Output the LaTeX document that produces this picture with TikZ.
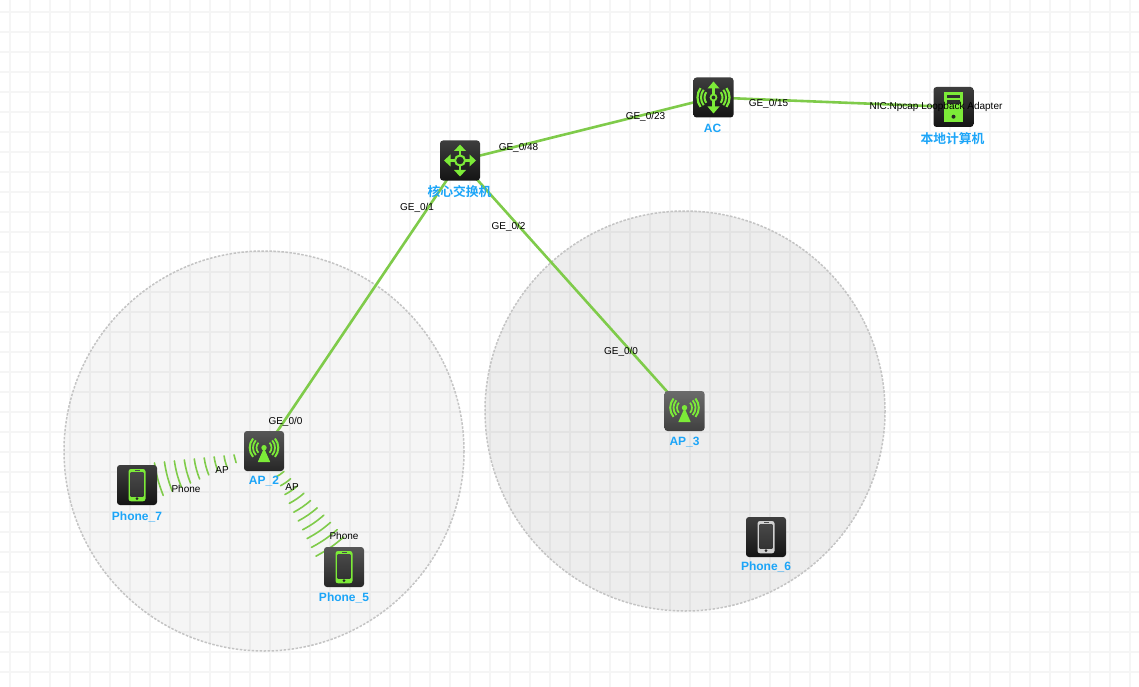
\documentclass[tikz,border=0pt]{standalone}
\usepackage{fontspec}
\setmainfont{Liberation Sans}
\newfontfamily\cjk{Noto Sans CJK SC}[BoldFont={Noto Sans CJK SC Bold}]
\usetikzlibrary{calc}
\pgfdeclarelayer{under}
\pgfdeclarelayer{links}
\pgfsetlayers{under,links,main}
\definecolor{gridc}{HTML}{F5F5F5}
\definecolor{linkc}{HTML}{7FCB4A}
\definecolor{glyphc}{HTML}{7CEB38}
\definecolor{namec}{HTML}{1CA5F8}
\definecolor{zonec}{HTML}{C4C4C4}
\tikzset{
  gridline/.style={draw=gridc,line width=2pt},
  zone/.style={draw=zonec,line width=1.5pt,dash pattern=on 2.5pt off 1.5pt,fill=black},
  wired/.style={draw=linkc,line width=2.6pt},
  wave/.style={draw=linkc,line width=1.6pt,line cap=round},
  devbox/.style={minimum width=40pt,minimum height=40pt,inner sep=0pt,rounded corners=3pt,draw=none},
  boxA/.style={devbox,top color=black!76,bottom color=black!92},
  boxB/.style={devbox,top color=black!66,bottom color=black!85},
  boxC/.style={devbox,top color=black!58,bottom color=black!75},
  devname/.style={text=namec,font=\bfseries\fontsize{12}{14}\selectfont,inner sep=0pt,yshift=-0.8pt},
  cjkname/.style={text=namec,font=\cjk\bfseries\fontsize{12.8}{14}\selectfont,inner sep=0pt},
  portlabel/.style={text=black,font=\fontsize{10}{12}\selectfont,inner sep=0pt,yshift=-0.9pt},
  pics/coreglyph/.style={code={
    \draw[glyphc,line width=2pt] (0,0) circle (5);
    \foreach \a in {0,90,180,270}{
      \begin{scope}[rotate=\a]
        \draw[glyphc,line width=2.2pt] (5,0) -- (11,0);
        \fill[glyphc] (16,0) -- (9.5,-6) -- (9.5,6) -- cycle;
      \end{scope}}
  }},
  pics/acglyph/.style={code={
    \draw[glyphc,line width=1.7pt] (0,0) circle (3);
    \draw[glyphc,line width=2.4pt] (0,-3) -- (0,-10) (0,3) -- (0,10);
    \fill[glyphc] (0,-16) -- (-6,-9) -- (6,-9) -- cycle;
    \fill[glyphc] (0,16) -- (-6,9) -- (6,9) -- cycle;
    \foreach \r/\w/\h in {9/2/36,12.5/2/38,16/2.2/36}{
      \draw[glyphc,line width=\w pt] (0,0) ++(-\h:\r) arc (-\h:\h:\r);
      \draw[glyphc,line width=\w pt] (0,0) ++(180-\h:\r) arc (180-\h:180+\h:\r);
    }
  }},
  pics/apglyph/.style={code={
    \fill[glyphc] (0,-3) -- (-6.2,11) -- (6.2,11) -- cycle;
    \fill[glyphc] (0,-3.3) circle (2.7);
    \foreach \r/\w/\h in {7.5/1.7/42,11/1.8/42,14.3/2/40}{
      \draw[glyphc,line width=\w pt] (0,-3.3) ++(-\h:\r) arc (-\h:\h:\r);
      \draw[glyphc,line width=\w pt] (0,-3.3) ++(180-\h:\r) arc (180-\h:180+\h:\r);
    }
  }},
  pics/phoneglyph/.style={code={
    \fill[#1,rounded corners=2.5pt] (-8.5,-16) rectangle (8.5,16.3);
    \shade[top color=black!72,bottom color=black!80] (-6.4,-12.7) rectangle (6.4,11.3);
    \fill[black!70] (-2.5,-15) rectangle (2.5,-14);
    \fill[black!85] (0,13.7) circle (1.5);
  }},
  pics/pcglyph/.style={code={
    \fill[glyphc] (-9.5,-15) rectangle (9.5,15);
    \fill[black!82] (-6.8,-12) rectangle (6.8,-8.8);
    \fill[black!82] (-6.8,-6.5) rectangle (6.8,-3.2);
    \fill[black!85] (0,9.7) circle (2);
  }}
}
\begin{document}
\begin{tikzpicture}[x=1pt,y=-1pt]
\useasboundingbox (0,0) rectangle (1139,687);
\begin{pgfonlayer}{under}
  \fill[white] (0,0) rectangle (1139,687);
  \foreach \x in {10,30,...,1130} \draw[gridline] (\x,0) -- (\x,687);
  \foreach \y in {12,32,...,672} \draw[gridline] (0,\y) -- (1139,\y);
  \draw[zone,fill opacity=0.04] (264,451) circle (200);
  \draw[zone,fill opacity=0.07] (685,411) circle (200);
\end{pgfonlayer}

% devices
\node[boxA] (core) at (460,160.5) {};
\pic at (core.center) {coreglyph};
\node[boxA] (ac) at (713.5,97.5) {};
\pic at (ac.center) {acglyph};
\node[boxA] (pc) at (953.5,107) {};
\pic at (pc.center) {pcglyph};
\node[boxB] (ap2) at (264,451) {};
\pic at (ap2.center) {apglyph};
\node[boxC] (ap3) at (684.5,411) {};
\pic at (ap3.center) {apglyph};
\node[boxA] (ph7) at (137,485) {};
\pic at (ph7.center) {phoneglyph=glyphc};
\node[boxB] (ph5) at (344,567) {};
\pic at (ph5.center) {phoneglyph=glyphc};
\node[boxA] (ph6) at (766,537) {};
\pic at (ph6.center) {phoneglyph=black!18};

% links
\begin{pgfonlayer}{links}
  \draw[wired] (core.center) -- (ac.center);
  \draw[wired] (ac.center) -- (pc.center);
  \draw[wired] (core.center) -- (ap2.center);
  \draw[wired] (core.center) -- (ap3.center);
  \foreach \k in {0,...,8}{
    \pgfmathsetmacro{\t}{0.228+0.075*\k}
    \pgfmathsetmacro{\h}{4.0+1.6*\k}
    \coordinate (m) at ($(ap2)!\t!(ph7)$);
    \draw[wave] ($(m)!\h pt!90:(ph7)$) to[bend left=6] ($(m)!\h pt!-90:(ph7)$);
  }
  \foreach \k in {0,...,9}{
    \pgfmathsetmacro{\t}{0.2+0.0693*\k}
    \pgfmathsetmacro{\h}{4.8+1.35*\k}
    \coordinate (m) at ($(ap2)!\t!(ph5)$);
    \draw[wave] ($(m)!\h pt!90:(ph5)$) to[bend left=6] ($(m)!\h pt!-90:(ph5)$);
  }
\end{pgfonlayer}

% device names
\node[cjkname] (ncore) at (459.5,191.5) {核心交换机};
\node[devname] (nac) at (712.5,127.5) {AC};
\node[cjkname] (npc) at (952.5,138.5) {本地计算机};
\node[devname] (nap2) at (264,480.5) {AP\_2};
\node[devname] (nap3) at (684.5,441.5) {AP\_3};
\node[devname] (nph7) at (137,516) {Phone\_7};
\node[devname] (nph5) at (344,597.5) {Phone\_5};
\node[devname] (nph6) at (766,566.5) {Phone\_6};

% port labels
\node[portlabel] (l1) at (518.5,146.5) {GE\_0/48};
\node[portlabel] (l2) at (645.5,115.5) {GE\_0/23};
\node[portlabel] (l3) at (768.5,102.5) {GE\_0/15};
\node[portlabel] (l4) at (936,106.5) {NIC:Npcap Loopback Adapter};
\node[portlabel] (l5) at (417,207) {GE\_0/1};
\node[portlabel] (l6) at (508.5,226) {GE\_0/2};
\node[portlabel] (l7) at (285.5,420.5) {GE\_0/0};
\node[portlabel] (l8) at (621,350.5) {GE\_0/0};
\node[portlabel] (l9) at (222,469) {AP};
\node[portlabel] (l10) at (186,488) {Phone};
\node[portlabel] (l11) at (292,486.5) {AP};
\node[portlabel] (l12) at (344,535) {Phone};
\end{tikzpicture}
\end{document}
